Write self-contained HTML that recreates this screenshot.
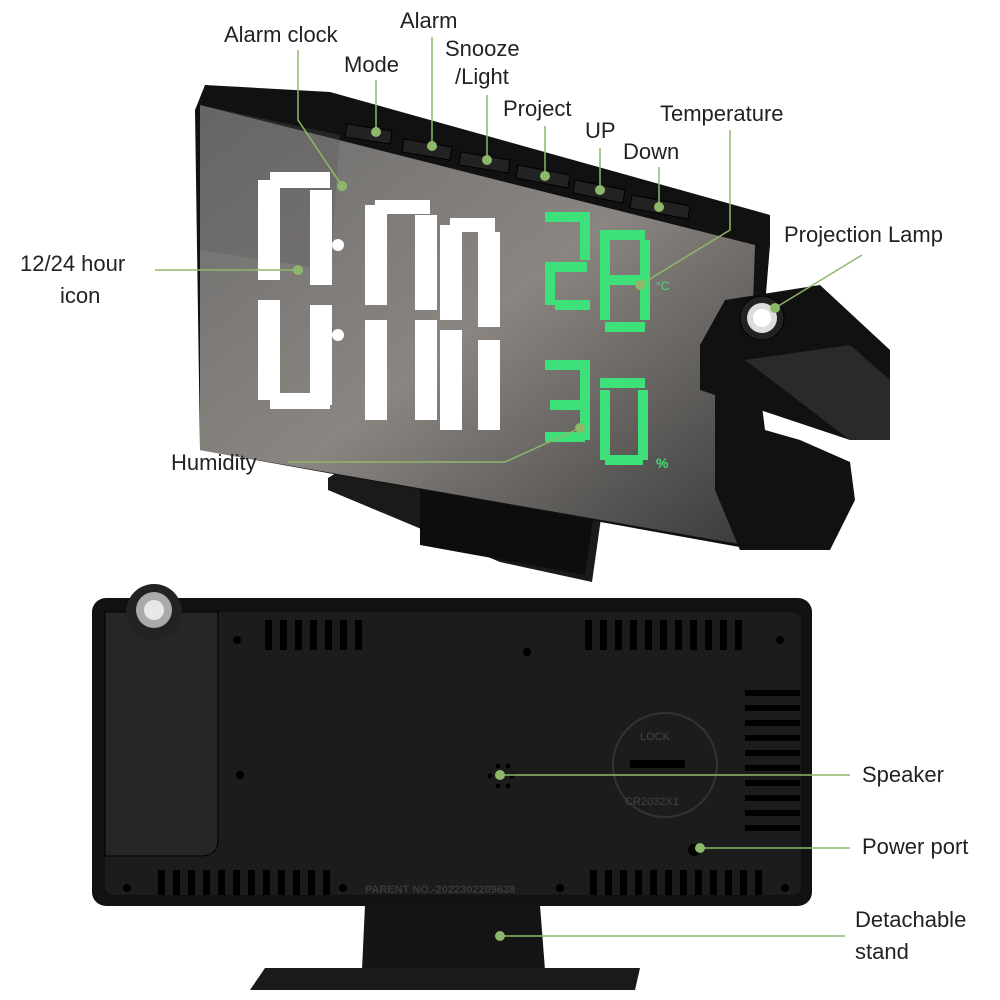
<!DOCTYPE html>
<html><head><meta charset="utf-8"><style>
html,body{margin:0;padding:0;background:#fff}
svg{display:block}
text{font-family:"Liberation Sans",sans-serif;font-size:22px;fill:#222}
</style></head><body>
<svg width="1000" height="1000" viewBox="0 0 1000 1000">
<defs>
<linearGradient id="mir" x1="0" y1="0" x2="1" y2="1">
<stop offset="0" stop-color="#6d6d6d"/><stop offset="0.5" stop-color="#8a8580"/><stop offset="1" stop-color="#3a3a3a"/>
</linearGradient>
</defs>
<polygon points="328,478 430,415 612,440 592,582 500,562 328,490" fill="#1a1a1a"/>
<polygon points="420,440 600,470 585,575 420,545" fill="#0d0d0d"/>
<polygon points="205,85 330,92 770,215 770,245 745,548 200,450 195,110" fill="#111"/>
<polygon points="200,105 755,245 745,545 200,450" fill="url(#mir)"/>
<polygon points="200,105 340,135 330,270 200,250" fill="#555" opacity="0.3"/>
<g fill="#222" stroke="#000">
<polygon points="347,124 392,131 390,144 345,137"/>
<polygon points="404,139 452,147 450,160 402,152"/>
<polygon points="461,152 510,160 508,173 459,165"/>
<polygon points="518,165 570,175 568,188 516,178"/>
<polygon points="575,180 625,190 623,203 573,193"/>
<polygon points="632,195 690,206 688,219 630,208"/>
</g>
<g fill="#fff">
<rect x="258" y="180" width="22" height="100"/><rect x="258" y="300" width="22" height="100"/>
<rect x="310" y="190" width="22" height="95"/><rect x="310" y="305" width="22" height="100"/>
<rect x="270" y="172" width="60" height="16"/><rect x="270" y="393" width="60" height="16"/>
<circle cx="338" cy="245" r="6"/><circle cx="338" cy="335" r="6"/>
<rect x="365" y="205" width="22" height="100"/><rect x="365" y="320" width="22" height="100"/>
<rect x="415" y="215" width="22" height="95"/><rect x="415" y="320" width="22" height="100"/>
<rect x="440" y="225" width="22" height="95"/><rect x="440" y="330" width="22" height="100"/>
<rect x="478" y="232" width="22" height="95"/><rect x="478" y="340" width="22" height="90"/>
<rect x="375" y="200" width="55" height="14"/><rect x="450" y="218" width="45" height="14"/>
</g>
<g fill="#3ee07a">
<rect x="545" y="212" width="45" height="10"/><rect x="580" y="220" width="10" height="40"/><rect x="545" y="262" width="42" height="10"/><rect x="545" y="270" width="10" height="35"/><rect x="555" y="300" width="35" height="10"/>
<rect x="600" y="230" width="45" height="10"/><rect x="600" y="240" width="10" height="80"/><rect x="640" y="240" width="10" height="80"/><rect x="605" y="275" width="40" height="10"/><rect x="605" y="322" width="40" height="10"/>
<rect x="545" y="360" width="45" height="10"/><rect x="580" y="370" width="10" height="70"/><rect x="550" y="400" width="35" height="10"/><rect x="545" y="432" width="40" height="10"/>
<rect x="600" y="378" width="45" height="10"/><rect x="600" y="390" width="10" height="70"/><rect x="638" y="390" width="10" height="70"/><rect x="605" y="455" width="38" height="10"/>
</g>
<text x="656" y="290" style="font-size:12px;fill:#3ee07a">°C</text>
<text x="656" y="468" style="font-size:14px;fill:#3ee07a;font-weight:bold">%</text>
<polygon points="700,345 725,300 820,285 890,350 890,440 850,440 700,390" fill="#111"/>
<polygon points="745,360 850,345 890,380 890,440 850,440" fill="#2a2a2a"/>
<circle cx="762" cy="318" r="22" fill="#222" stroke="#000"/>
<circle cx="762" cy="318" r="15" fill="#ddd"/><circle cx="762" cy="318" r="9" fill="#fff"/>
<polygon points="715,390 760,390 765,430 800,440 850,462 855,500 830,550 740,550 715,490" fill="#111"/>
<rect x="92" y="598" width="720" height="308" rx="14" fill="#111"/>
<rect x="105" y="612" width="696" height="283" rx="8" fill="#1c1c1c"/>
<path d="M105,612 H218 V840 Q218,856 200,856 H105 Z" fill="#262626" stroke="#000"/>
<circle cx="154" cy="612" r="28" fill="#222"/><circle cx="154" cy="610" r="18" fill="#aaa"/><circle cx="154" cy="610" r="10" fill="#e8e8e8"/>
<g fill="#000">
<rect x="265" y="620" width="7" height="30"/><rect x="280" y="620" width="7" height="30"/><rect x="295" y="620" width="7" height="30"/><rect x="310" y="620" width="7" height="30"/><rect x="325" y="620" width="7" height="30"/><rect x="340" y="620" width="7" height="30"/><rect x="355" y="620" width="7" height="30"/>
<rect x="585" y="620" width="7" height="30"/><rect x="600" y="620" width="7" height="30"/><rect x="615" y="620" width="7" height="30"/><rect x="630" y="620" width="7" height="30"/><rect x="645" y="620" width="7" height="30"/><rect x="660" y="620" width="7" height="30"/><rect x="675" y="620" width="7" height="30"/><rect x="690" y="620" width="7" height="30"/><rect x="705" y="620" width="7" height="30"/><rect x="720" y="620" width="7" height="30"/><rect x="735" y="620" width="7" height="30"/>
<rect x="158" y="870" width="7" height="25"/><rect x="173" y="870" width="7" height="25"/><rect x="188" y="870" width="7" height="25"/><rect x="203" y="870" width="7" height="25"/><rect x="218" y="870" width="7" height="25"/><rect x="233" y="870" width="7" height="25"/><rect x="248" y="870" width="7" height="25"/><rect x="263" y="870" width="7" height="25"/><rect x="278" y="870" width="7" height="25"/><rect x="293" y="870" width="7" height="25"/><rect x="308" y="870" width="7" height="25"/><rect x="323" y="870" width="7" height="25"/>
<rect x="590" y="870" width="7" height="25"/><rect x="605" y="870" width="7" height="25"/><rect x="620" y="870" width="7" height="25"/><rect x="635" y="870" width="7" height="25"/><rect x="650" y="870" width="7" height="25"/><rect x="665" y="870" width="7" height="25"/><rect x="680" y="870" width="7" height="25"/><rect x="695" y="870" width="7" height="25"/><rect x="710" y="870" width="7" height="25"/><rect x="725" y="870" width="7" height="25"/><rect x="740" y="870" width="7" height="25"/><rect x="755" y="870" width="7" height="25"/>
</g>
<g fill="#000">
<rect x="745" y="690" width="55" height="6"/><rect x="745" y="705" width="55" height="6"/><rect x="745" y="720" width="55" height="6"/><rect x="745" y="735" width="55" height="6"/><rect x="745" y="750" width="55" height="6"/><rect x="745" y="765" width="55" height="6"/><rect x="745" y="780" width="55" height="6"/><rect x="745" y="795" width="55" height="6"/><rect x="745" y="810" width="55" height="6"/><rect x="745" y="825" width="55" height="6"/>
</g>
<circle cx="665" cy="765" r="52" fill="none" stroke="#333" stroke-width="2"/>
<rect x="630" y="760" width="55" height="8" fill="#000"/>
<text x="640" y="740" style="font-size:11px;fill:#444">LOCK</text>
<text x="625" y="805" style="font-size:11px;fill:#444">CR2032X1</text>
<text x="365" y="893" style="font-size:11px;fill:#3a3a3a;font-weight:bold">PARENT NO.-2022302209638</text>
<g fill="#000"><circle cx="237" cy="640" r="4"/><circle cx="780" cy="640" r="4"/><circle cx="527" cy="652" r="4"/><circle cx="240" cy="775" r="4"/><circle cx="127" cy="888" r="4"/><circle cx="560" cy="888" r="4"/><circle cx="785" cy="888" r="4"/><circle cx="343" cy="888" r="4"/><circle cx="694" cy="850" r="6"/>
<circle cx="490" cy="776" r="2.5"/><circle cx="498" cy="766" r="2.5"/><circle cx="508" cy="766" r="2.5"/><circle cx="512" cy="776" r="2.5"/><circle cx="498" cy="786" r="2.5"/><circle cx="508" cy="786" r="2.5"/></g>
<polygon points="365,905 540,905 545,970 362,970" fill="#151515"/>
<polygon points="265,968 640,968 635,990 250,990" fill="#1a1a1a"/>
<g stroke="#8db86a" stroke-width="1.5" fill="none">
<polyline points="298,50 298,120 342,186"/>
<line x1="376" y1="80" x2="376" y2="132"/>
<line x1="432" y1="37" x2="432" y2="146"/>
<line x1="487" y1="95" x2="487" y2="160"/>
<line x1="545" y1="126" x2="545" y2="176"/>
<line x1="600" y1="148" x2="600" y2="190"/>
<line x1="659" y1="167" x2="659" y2="207"/>
<polyline points="730,130 730,230 640,285"/>
<line x1="862" y1="255" x2="775" y2="308"/>
<line x1="155" y1="270" x2="298" y2="270"/>
<polyline points="288,462 505,462 580,428"/>
<line x1="500" y1="775" x2="850" y2="775"/>
<line x1="700" y1="848" x2="850" y2="848"/>
<line x1="500" y1="936" x2="845" y2="936"/>
</g>
<g fill="#8db86a">
<circle cx="342" cy="186" r="5"/><circle cx="376" cy="132" r="5"/><circle cx="432" cy="146" r="5"/><circle cx="487" cy="160" r="5"/><circle cx="545" cy="176" r="5"/><circle cx="600" cy="190" r="5"/><circle cx="659" cy="207" r="5"/><circle cx="640" cy="285" r="5"/><circle cx="775" cy="308" r="5"/><circle cx="298" cy="270" r="5"/><circle cx="580" cy="428" r="5"/><circle cx="500" cy="775" r="5"/><circle cx="700" cy="848" r="5"/><circle cx="500" cy="936" r="5"/>
</g>
<text x="224" y="42">Alarm clock</text>
<text x="344" y="72">Mode</text>
<text x="400" y="28">Alarm</text>
<text x="445" y="56">Snooze</text>
<text x="455" y="84">/Light</text>
<text x="503" y="116">Project</text>
<text x="585" y="138">UP</text>
<text x="623" y="159">Down</text>
<text x="660" y="121">Temperature</text>
<text x="784" y="242">Projection Lamp</text>
<text x="20" y="271">12/24 hour</text>
<text x="60" y="303">icon</text>
<text x="171" y="470">Humidity</text>
<text x="862" y="782">Speaker</text>
<text x="862" y="854">Power port</text>
<text x="855" y="927">Detachable</text>
<text x="855" y="959">stand</text>
</svg>
</body></html>
